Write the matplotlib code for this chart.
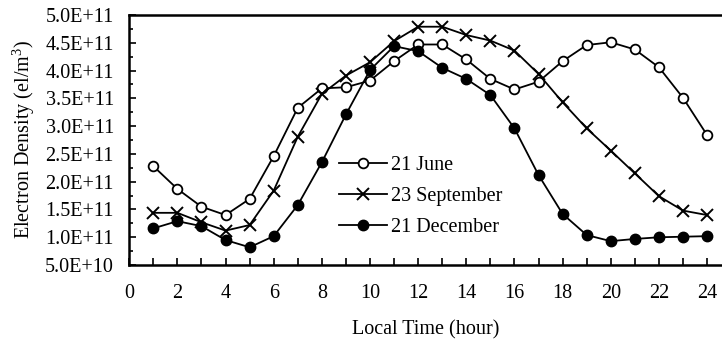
import numpy as np
import matplotlib.pyplot as plt
from matplotlib.ticker import MultipleLocator, FuncFormatter

plt.rcParams['font.family'] = ['Liberation Serif', 'DejaVu Serif']
plt.rcParams['mathtext.fontset'] = 'custom'
plt.rcParams['mathtext.rm'] = 'Liberation Serif'

hours = np.arange(1, 25)

# electron density in units of 1e11 el/m^3
june = [2.28, 1.87, 1.55, 1.40, 1.69, 2.46, 3.33, 3.68, 3.70, 3.82, 4.17, 4.47,
        4.47, 4.20, 3.85, 3.66, 3.80, 4.17, 4.46, 4.51, 4.38, 4.06, 3.51, 2.84]
september = [1.44, 1.44, 1.27, 1.12, 1.22, 1.84, 2.81, 3.58, 3.91, 4.15, 4.53, 4.79,
             4.79, 4.64, 4.54, 4.36, 3.94, 3.43, 2.96, 2.56, 2.15, 1.74, 1.48, 1.40]
december = [1.16, 1.29, 1.20, 0.95, 0.82, 1.02, 1.58, 2.35, 3.21, 4.01, 4.44, 4.35,
            4.05, 3.85, 3.56, 2.96, 2.12, 1.42, 1.04, 0.93, 0.97, 1.00, 1.01, 1.02]

labels = ['21 June', '23 September', '21 December']


def sci_fmt(v, pos):
    s = '%.1E' % v
    return s


fig = plt.figure(figsize=(7.22, 3.42), dpi=100)
ax = fig.add_axes([0.179, 0.225, 0.821, 0.731])

scale = 1e11
ax.plot(hours, np.array(june) * scale, '-o', color='black', mfc='white', mec='black',
        ms=7, mew=1.3, lw=1.3, label=labels[0])
ax.plot(hours, np.array(september) * scale, '-x', color='black',
        ms=8, mew=1.4, lw=1.3, label=labels[1])
ax.plot(hours, np.array(december) * scale, '-o', color='black', mfc='black',
        ms=7.5, lw=1.3, label=labels[2])

ax.set_xlim(0, 24.62)
ax.set_ylim(5e10, 5e11)
ax.xaxis.set_major_locator(MultipleLocator(2))
ax.xaxis.set_minor_locator(MultipleLocator(1))
ax.yaxis.set_major_locator(MultipleLocator(5e10))
ax.yaxis.set_minor_locator(MultipleLocator(2.5e10))
ax.yaxis.set_major_formatter(FuncFormatter(sci_fmt))

ax.tick_params(axis='both', which='both', direction='in', labelsize=14.5, width=1.2)
ax.tick_params(axis='x', which='both', length=5, pad=14)
ax.tick_params(axis='y', which='major', length=5, pad=11)
ax.tick_params(axis='y', which='minor', length=3)
ax.spines['right'].set_visible(False)
for s in ['left', 'bottom', 'top']:
    ax.spines[s].set_linewidth(1.8)

ax.set_xlabel('Local Time (hour)', fontsize=14.5, labelpad=12)
ax.set_ylabel('Electron Density (el/m$^3$)', fontsize=14.5, labelpad=6)

ax.legend(loc='upper left', bbox_to_anchor=(0.34, 0.47), frameon=False,
          fontsize=14.5, handlelength=2.4, handletextpad=0.2, labelspacing=0.6,
          borderaxespad=0)

fig.savefig('out.png', dpi=100)
